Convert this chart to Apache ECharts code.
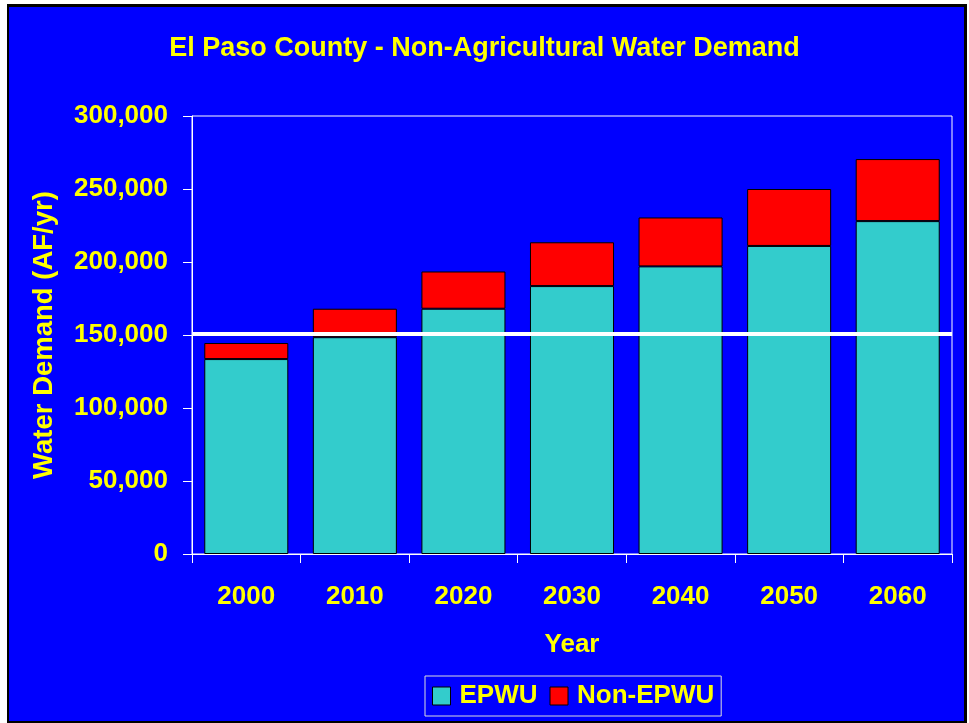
<!DOCTYPE html>
<html>
<head>
<meta charset="utf-8">
<script src="https://cdn.jsdelivr.net/npm/echarts@6/dist/echarts.min.js"></script>
<style>
  html, body { margin: 0; padding: 0; background: #ffffff; }
  #frame { position: absolute; left: 7px; top: 4px; width: 960px; height: 719px; background: #000000; }
  #fill { position: absolute; left: 9px; top: 7px; width: 955px; height: 714px; background: #0000FF; }
  #c { position: absolute; left: 0; top: 0; width: 969px; height: 723px; }
</style>
</head>
<body>
<div id="frame"></div>
<div id="fill"></div>
<div id="c"></div>
<script>
const titleText = 'El Paso County - Non-Agricultural Water Demand';
const years = ['2000', '2010', '2020', '2030', '2040', '2050', '2060'];
const epwu = [133500, 148500, 168000, 183500, 197000, 211000, 228000];
const nonEpwu = [11000, 19500, 25500, 30000, 33500, 39000, 42500];
const referenceLevel = 151000;
const yTicks = { min: 0, max: 300000, interval: 50000 };
const yAxisTitle = 'Water Demand (AF/yr)';
const xAxisTitle = 'Year';
const seriesNames = ['EPWU', 'Non-EPWU'];

const FONT = '"Liberation Sans", Arial, sans-serif';
const YELLOW = '#FFFF00';
const chart = echarts.init(document.getElementById('c'), null, { renderer: 'canvas' });

chart.setOption({
  backgroundColor: 'transparent',
  animation: false,
  title: {
    text: titleText,
    left: 'center',
    top: 30,
    textStyle: { color: YELLOW, fontFamily: FONT, fontWeight: 'bold', fontSize: 27 }
  },
  legend: {
    data: seriesNames,
    left: 425,
    top: 676,
    itemWidth: 18,
    itemHeight: 18,
    itemGap: 12,
    padding: [7, 7, 7, 7],
    borderColor: '#dddddd',
    borderWidth: 1,
    icon: 'rect',
    itemStyle: { borderColor: '#000000', borderWidth: 1 },
    textStyle: { color: YELLOW, fontFamily: FONT, fontWeight: 'bold', fontSize: 26, padding: [0, 0, 0, 4] }
  },
  grid: {
    left: 192, right: 17, top: 116, bottom: 169,
    show: true, borderColor: '#ffffff', borderWidth: 1, backgroundColor: 'transparent'
  },
  xAxis: {
    type: 'category',
    data: years,
    name: xAxisTitle,
    nameLocation: 'middle',
    nameGap: 78,
    nameTextStyle: { color: YELLOW, fontFamily: FONT, fontWeight: 'bold', fontSize: 26 },
    axisLine: { lineStyle: { color: '#ffffff', width: 1 } },
    axisTick: { show: true, length: 9, lineStyle: { color: '#ffffff' } },
    axisLabel: { color: YELLOW, fontFamily: FONT, fontWeight: 'bold', fontSize: 26, margin: 30 },
    splitLine: { show: false }
  },
  yAxis: {
    type: 'value',
    min: yTicks.min,
    max: yTicks.max,
    interval: yTicks.interval,
    name: yAxisTitle,
    nameLocation: 'middle',
    nameRotate: 90,
    nameGap: 134,
    nameTextStyle: { color: YELLOW, fontFamily: FONT, fontWeight: 'bold', fontSize: 27.5 },
    axisLine: { show: true, lineStyle: { color: '#ffffff', width: 1 } },
    axisTick: { show: true, length: 9, lineStyle: { color: '#ffffff' } },
    axisLabel: {
      color: YELLOW, fontFamily: FONT, fontWeight: 'bold', fontSize: 26, margin: 24,
      padding: [5, 0, 0, 0],
      formatter: v => v.toLocaleString('en-US')
    },
    splitLine: { show: false }
  },
  series: [
    {
      name: seriesNames[0],
      type: 'bar',
      stack: 'demand',
      data: epwu,
      barCategoryGap: '22.6%',
      itemStyle: { color: '#33CCCC', borderColor: '#000000', borderWidth: 1 }
    },
    {
      name: seriesNames[1],
      type: 'bar',
      stack: 'demand',
      data: nonEpwu,
      barCategoryGap: '22.6%',
      itemStyle: { color: '#FF0000', borderColor: '#000000', borderWidth: 1 },
      markLine: {
        silent: true,
        symbol: 'none',
        label: { show: false },
        lineStyle: { color: '#ffffff', width: 4, type: 'solid' },
        data: [{ yAxis: referenceLevel }]
      }
    }
  ]
});
</script>
</body>
</html>
